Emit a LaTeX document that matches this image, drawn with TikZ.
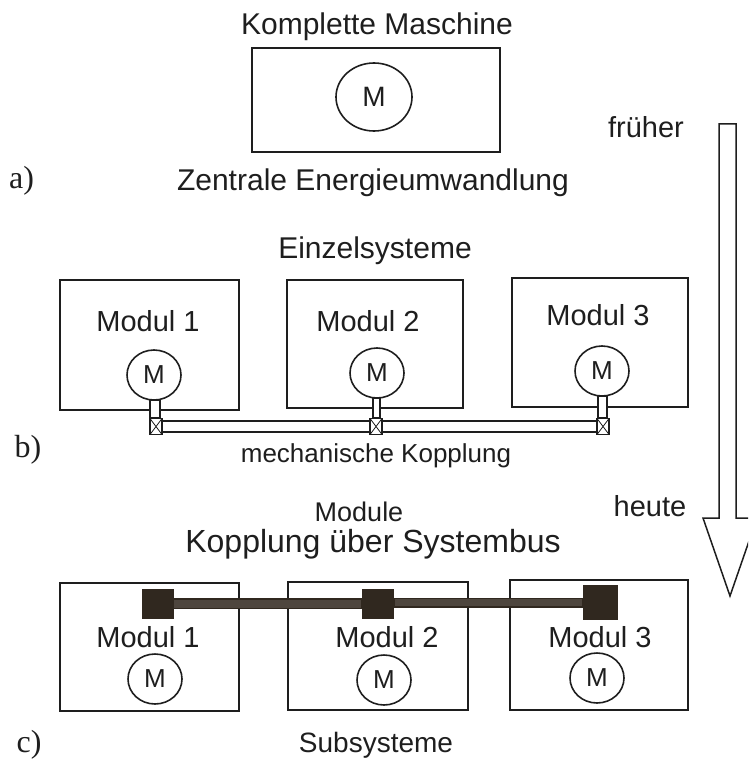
\documentclass[tikz,border=0pt]{standalone}
\usepackage{fontspec}
\setmainfont{Liberation Sans}
\newfontfamily\letterfont{Liberation Serif}
\usetikzlibrary{shapes.geometric,backgrounds}
\definecolor{ink}{HTML}{1E1E1E}
\definecolor{busdark}{HTML}{30281F}
\definecolor{busmid}{HTML}{4E463E}
\newcommand\fsz[1]{\fontsize{#1}{#1}\selectfont}
\begin{document}
\begin{tikzpicture}[x=1pt,y=-1pt,
  box/.style={draw=ink, line width=1.7pt, inner sep=0pt},
  motor/.style={draw=ink, ellipse, line width=1.6pt, minimum width=54pt, minimum height=50pt, inner sep=0pt, text=ink, font=\fsz{26}},
  lbl/.style={anchor=base, text=ink, inner sep=0pt, font=\fsz{29}},
  letter/.style={anchor=base, text=ink, inner sep=0pt, font=\letterfont\fsz{32}},
  shaftline/.style={draw=ink, fill=white, line width=1.2pt},
  xbox/.style={draw=ink, fill=white, line width=1.2pt, minimum width=12pt, minimum height=16pt, inner sep=0pt,
    path picture={\draw[ink, line width=0.8pt] (path picture bounding box.north west) -- (path picture bounding box.south east)
                                               (path picture bounding box.north east) -- (path picture bounding box.south west);}},
  busbox/.style={fill=busdark, draw=busdark, line width=0.8pt, inner sep=0pt, minimum width=31pt, minimum height=29pt},
]
\useasboundingbox (0,0) rectangle (748,765);

% ---------- a) ----------
\node[lbl, font=\fsz{30}] (tKM) at (377,35) {Komplette Maschine};
\node[box, minimum width=248pt, minimum height=104pt] (boxA) at (376,100) {};
\node[motor, minimum width=76pt, minimum height=68pt, font=\fsz{28}] (mA) at (374,97) {M};
\node[lbl, font=\fsz{30}] (tZE) at (373,190) {Zentrale Energieumwandlung};
\node[letter] (la) at (21.5,188) {a)};

% ---------- b) ----------
\node[lbl, font=\fsz{30}] (tES) at (375,258) {Einzelsysteme};
\node[box, minimum width=179pt, minimum height=130pt] (b1) at (149.5,345) {};
\node[box, minimum width=176pt, minimum height=128pt] (b2) at (375,344) {};
\node[box, minimum width=176pt, minimum height=129pt] (b3) at (600,342.5) {};
\node[lbl] (tb1) at (148,331) {Modul 1};
\node[lbl] (tb2) at (368,331) {Modul 2};
\node[lbl] (tb3) at (598,325) {Modul 3};
\node[motor] (mb1) at (154,375) {M};
\node[motor] (mb2) at (377,373) {M};
\node[motor] (mb3) at (602,371) {M};
\node[xbox] (x1) at (156,426.5) {};
\node[xbox] (x2) at (376,426.5) {};
\node[xbox] (x3) at (603,426.5) {};
\begin{scope}[on background layer]
  \draw[shaftline, line width=1.7pt] ([yshift=5.5pt]x1.east) rectangle ([yshift=-5.5pt]x3.west);
\end{scope}
\draw[shaftline] ([xshift=-4pt]mb1.south) rectangle ([xshift=4pt]x1.north);
\draw[shaftline] ([xshift=-4pt]mb2.south) rectangle ([xshift=4pt]x2.north);
\draw[shaftline] ([xshift=-4pt]mb3.south) rectangle ([xshift=4pt]x3.north);
\node[lbl, font=\fsz{26}] (tMK) at (376,462) {mechanische Kopplung};
\node[letter] (lb) at (28,457) {b)};

% ---------- c) ----------
\node[lbl, font=\fsz{27}] (tMo) at (359,521) {Module};
\node[lbl, font=\fsz{32}] (tKS) at (373,552) {Kopplung über Systembus};
\node[box, minimum width=179pt, minimum height=128pt] (c1) at (149.5,647) {};
\node[box, minimum width=180pt, minimum height=128pt] (c2) at (378,646) {};
\node[box, minimum width=178pt, minimum height=130pt] (c3) at (599,645) {};
\node[busbox] (s1) at (157.5,604) {};
\node[busbox] (s2) at (378,603.5) {};
\node[busbox, minimum width=34pt, minimum height=34pt] (s3) at (600,602) {};
\draw[fill=busmid, draw=busdark, line width=1.4pt] ([yshift=5pt]s1.east) rectangle ([yshift=-5pt]s2.west);
\draw[fill=busmid, draw=busdark, line width=1.4pt] ([yshift=5pt]s2.east) rectangle ([yshift=-5pt]s3.west);
\node[lbl] (tc1) at (148,647) {Modul 1};
\node[lbl] (tc2) at (387,647) {Modul 2};
\node[lbl] (tc3) at (600,647) {Modul 3};
\node[motor] (mc1) at (155,679) {M};
\node[motor] (mc2) at (384,680) {M};
\node[motor] (mc3) at (597,678) {M};
\node[lbl, font=\fsz{28}] (tSS) at (376,752) {Subsysteme};
\node[letter] (lc) at (29,752) {c)};

% ---------- time arrow ----------
\node[lbl, font=\fsz{29}] (tfr) at (646,137) {früher};
\node[lbl, font=\fsz{29}] (the) at (650,516) {heute};
\coordinate (arTL) at (719,124);
\coordinate (arTR) at (736,124);
\coordinate (arBR) at (736,518);
\coordinate (arBL) at (719,518);
\coordinate (arHL) at (703,518);
\coordinate (arHR) at (757,518);
\coordinate (arTip) at (730,596);
\begin{scope}
  \clip (0,0) rectangle (748,765);
  \draw[draw=ink, fill=white, line width=1.5pt, line join=miter]
    (arTL) -- (arTR) -- (arBR) -- (arHR) -- (arTip) -- (arHL) -- (arBL) -- cycle;
\end{scope}
\end{tikzpicture}
\end{document}
